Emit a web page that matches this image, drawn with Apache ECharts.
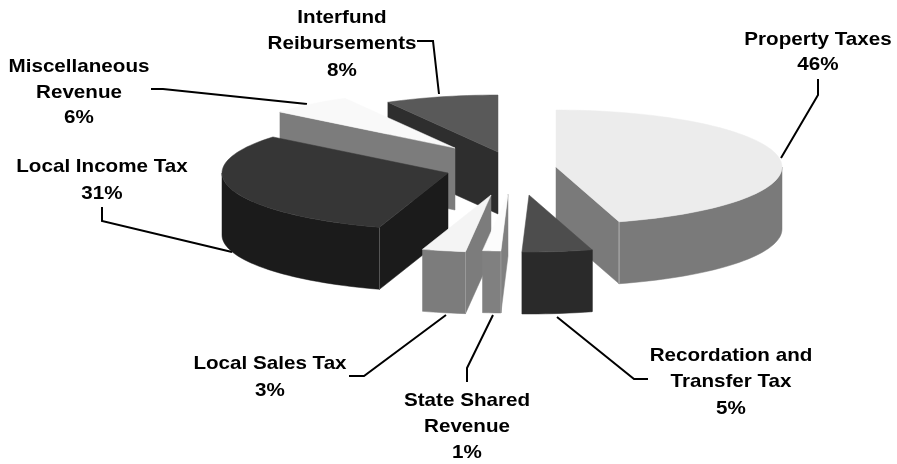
<html>

<head>
    <meta charset="utf-8">
    <script src="https://cdn.jsdelivr.net/npm/echarts@6/dist/echarts.min.js"></script>
</head>

<body style="height: 100%; margin: 0; background: #fff">
    <div id="container" style="width: 897px; height: 464px"></div>
    <script>
        // values run clockwise from 12 o'clock
        var categories = ['Property Taxes', 'Recordation and Transfer Tax', 'State Shared Revenue', 'Local Sales Tax',
            'Local Income Tax', 'Miscellaneous Revenue', 'Interfund Reibursements'];
        var values = [45.5, 5, 1.3, 3.1, 31, 6, 8.1];

        // look of each slice, same order as categories
        var topColors = ['#ececec', '#4d4d4d', '#fcfcfc', '#f4f4f4', '#363636', '#f9f9f9', '#595959'];
        var wallColors = ['#7a7a7a', '#2a2a2a', '#808080', '#7c7c7c', '#1b1b1b', '#7c7c7c', '#2e2e2e'];
        var edgeColors = ['#b4b4b4', '#2a2a2a', '#999999', '#999999', '#555555', '#7c7c7c', '#2e2e2e'];
        var explode = [[45, -5], [18, 23], [-3, 22], [-20, 23], [-63, 1], [-56, -24], [-13, -20]];

        // back to front
        var drawOrder = [6, 5, 4, 0, 3, 2, 1];

        var pie = { cx: 511, cy: 172, rx: 226, ry: 57, depth: 62 };

        var labelLines = [
            ['Property Taxes'],
            ['Recordation and', 'Transfer Tax'],
            ['State Shared', 'Revenue'],
            ['Local Sales Tax'],
            ['Local Income Tax'],
            ['Miscellaneous', 'Revenue'],
            ['Interfund', 'Reibursements']
        ];
        // label centre x, first line centre y, line gap
        var labelPos = [[818, 39.5, 25], [731, 355.5, 26.5], [467, 400.8, 26.2], [270, 364.2, 26.6],
            [102, 167.2, 27], [79, 67.2, 25.5], [342, 17.5, 26.5]];
        var leaders = [
            [[818, 79], [818, 95], [781, 158]],
            [[557, 317], [634, 379], [648, 379]],
            [[493, 315], [467, 368], [467, 382]],
            [[446, 315], [364, 376], [349, 376]],
            [[102, 207], [102, 221], [232, 252]],
            [[151, 89], [163, 89], [307, 104]],
            [[417, 41], [433, 41], [439, 94]]
        ];

        var total = values.reduce(function (a, b) { return a + b; }, 0);
        var angles = [];
        var acc = 0;
        values.forEach(function (v) {
            angles.push([acc / total * 360, (acc + v) / total * 360]);
            acc += v;
        });

        function rimPoint(i, deg, down) {
            var r = deg * Math.PI / 180;
            return [
                pie.cx + explode[i][0] + Math.sin(r) * pie.rx,
                pie.cy + explode[i][1] - Math.cos(r) * pie.ry + (down || 0)
            ];
        }

        function arcPoints(i, a, b, down) {
            var pts = [];
            var n = Math.max(2, Math.ceil((b - a) / 2));
            for (var k = 0; k <= n; k++) {
                pts.push(rimPoint(i, a + (b - a) * k / n, down));
            }
            return pts;
        }

        function poly(points, fill) {
            return {
                type: 'polygon',
                shape: { points: points },
                style: { fill: fill, stroke: fill, lineWidth: 0.5 }
            };
        }

        function ridge(i, deg) {
            return {
                type: 'line',
                shape: {
                    x1: rimPoint(i, deg)[0], y1: rimPoint(i, deg)[1],
                    x2: rimPoint(i, deg)[0], y2: rimPoint(i, deg, pie.depth)[1]
                },
                style: { stroke: edgeColors[i], lineWidth: 1 }
            };
        }

        function renderSlice(params) {
            var i = drawOrder[params.dataIndex];
            var a = angles[i][0], b = angles[i][1];
            var apex = [pie.cx + explode[i][0], pie.cy + explode[i][1]];
            var apexLow = [apex[0], apex[1] + pie.depth];
            var children = [];
            // only walls that face the viewer
            if (a > 180) children.push(poly([apex, rimPoint(i, a), rimPoint(i, a, pie.depth), apexLow], wallColors[i]));
            if (b < 180) children.push(poly([apex, rimPoint(i, b), rimPoint(i, b, pie.depth), apexLow], wallColors[i]));
            var from = Math.max(a, 90), to = Math.min(b, 270);
            if (to > from) {
                var low = arcPoints(i, from, to, pie.depth);
                children.push(poly(arcPoints(i, from, to, 0).concat(low.reverse()), wallColors[i]));
            }
            if (a > 90 && a < 270) children.push(ridge(i, a));
            if (b > 90 && b < 180) children.push(ridge(i, b));
            children.push(poly([apex].concat(arcPoints(i, a, b, 0)), topColors[i]));
            return { type: 'group', children: children };
        }

        var labelGraphics = [];
        categories.forEach(function (name, i) {
            var lines = labelLines[i].concat([Math.round(values[i]) + '%']);
            lines.forEach(function (text, k) {
                labelGraphics.push({
                    type: 'text',
                    x: labelPos[i][0],
                    y: labelPos[i][1] + k * labelPos[i][2],
                    scaleX: 1.085,
                    style: {
                        text: text,
                        fill: '#000',
                        font: 'bold 19px "Liberation Sans", Arial, sans-serif',
                        textAlign: 'center',
                        textVerticalAlign: 'middle'
                    }
                });
            });
            labelGraphics.push({
                type: 'polyline',
                shape: { points: leaders[i] },
                style: { stroke: '#000', lineWidth: 2, fill: null }
            });
        });

        var myChart = echarts.init(document.getElementById('container'), null, { renderer: 'canvas' });
        var option = {
            backgroundColor: '#fff',
            animation: false,
            graphic: labelGraphics,
            series: [{
                type: 'custom',
                coordinateSystem: 'none',
                silent: true,
                data: drawOrder.map(function (i) { return { name: categories[i], value: values[i] }; }),
                renderItem: renderSlice
            }]
        };
        myChart.setOption(option);
    </script>
</body>

</html>
